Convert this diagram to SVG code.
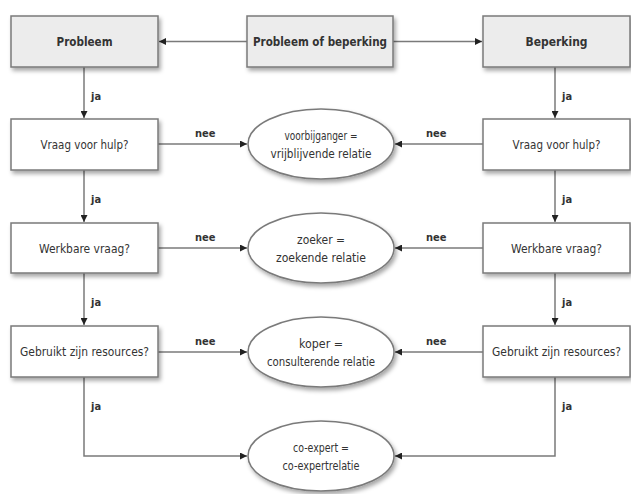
<svg xmlns="http://www.w3.org/2000/svg" width="631" height="494" viewBox="0 0 631 494">
<style>
.box{fill:#ffffff;stroke:#7a7a7a;stroke-width:1.5;filter:url(#sh)}
.top{fill:#ececec}
.ell{fill:#ffffff;stroke:#7a7a7a;stroke-width:1.5;filter:url(#sh)}
.t{font-family:"DejaVu Sans Condensed","Liberation Sans Narrow","Liberation Sans",sans-serif;font-size:12px;fill:#333333;text-anchor:middle}
.b{font-weight:bold}
.lbl{font-family:"DejaVu Sans Condensed","Liberation Sans Narrow","Liberation Sans",sans-serif;font-size:11px;fill:#333333;font-weight:bold}
.c{fill:none;stroke:#7a7a7a;stroke-width:1.5}
</style>
<defs>
<filter id="sh" x="-20%" y="-20%" width="140%" height="150%">
<feDropShadow dx="2" dy="3" stdDeviation="2" flood-color="#000" flood-opacity="0.35"/>
</filter>
<marker id="ah" viewBox="0 0 10 10" refX="10" refY="5" markerWidth="8" markerHeight="7" markerUnits="userSpaceOnUse" orient="auto">
<path d="M0,0 L10,5 L0,10 z" fill="#222"/>
</marker>
</defs>
<rect width="631" height="494" fill="#ffffff"/>

<g id="connectors">
<line class="c" x1="247" y1="41.5" x2="159" y2="41.5" marker-end="url(#ah)"/>
<line class="c" x1="393" y1="41.5" x2="482" y2="41.5" marker-end="url(#ah)"/>
<line class="c" x1="84" y1="67" x2="84" y2="118" marker-end="url(#ah)"/>
<line class="c" x1="555" y1="67" x2="555" y2="118" marker-end="url(#ah)"/>
<line class="c" x1="84" y1="170" x2="84" y2="222" marker-end="url(#ah)"/>
<line class="c" x1="555" y1="170" x2="555" y2="222" marker-end="url(#ah)"/>
<line class="c" x1="84" y1="273" x2="84" y2="325" marker-end="url(#ah)"/>
<line class="c" x1="555" y1="273" x2="555" y2="325" marker-end="url(#ah)"/>
<line class="c" x1="158" y1="144" x2="247" y2="144" marker-end="url(#ah)"/>
<line class="c" x1="483" y1="144" x2="395" y2="144" marker-end="url(#ah)"/>
<line class="c" x1="158" y1="248" x2="247" y2="248" marker-end="url(#ah)"/>
<line class="c" x1="483" y1="248" x2="395" y2="248" marker-end="url(#ah)"/>
<line class="c" x1="158" y1="352" x2="247" y2="352" marker-end="url(#ah)"/>
<line class="c" x1="483" y1="352" x2="395" y2="352" marker-end="url(#ah)"/>
<polyline class="c" points="84,377 84,456 247,456" marker-end="url(#ah)"/>
<polyline class="c" points="555,377 555,456 395,456" marker-end="url(#ah)"/>
<text class="lbl" x="91" y="100">ja</text>
<text class="lbl" x="562" y="100">ja</text>
<text class="lbl" x="91" y="203">ja</text>
<text class="lbl" x="562" y="203">ja</text>
<text class="lbl" x="91" y="306">ja</text>
<text class="lbl" x="562" y="306">ja</text>
<text class="lbl" x="91" y="410">ja</text>
<text class="lbl" x="562" y="410">ja</text>
<text class="lbl" x="195" y="137">nee</text>
<text class="lbl" x="426" y="137">nee</text>
<text class="lbl" x="195" y="241">nee</text>
<text class="lbl" x="426" y="241">nee</text>
<text class="lbl" x="195" y="345">nee</text>
<text class="lbl" x="426" y="345">nee</text>
</g>

<g id="probleem">
<rect class="box top" x="11" y="16" width="147" height="51"/>
<text class="t b" x="84.5" y="46" textLength="56" lengthAdjust="spacingAndGlyphs">Probleem</text>
</g>
<g id="probleem-of-beperking">
<rect class="box top" x="247" y="16" width="146" height="51"/>
<text class="t b" x="320" y="46" textLength="134" lengthAdjust="spacingAndGlyphs">Probleem of beperking</text>
</g>
<g id="beperking">
<rect class="box top" x="483" y="16" width="147" height="51"/>
<text class="t b" x="556.5" y="46" textLength="62" lengthAdjust="spacingAndGlyphs">Beperking</text>
</g>

<g id="vraag-links">
<rect class="box" x="11" y="119" width="147" height="51"/>
<text class="t" x="84.5" y="149" textLength="88" lengthAdjust="spacingAndGlyphs">Vraag voor hulp?</text>
</g>
<g id="vraag-rechts">
<rect class="box" x="483" y="119" width="147" height="51"/>
<text class="t" x="556.5" y="149" textLength="88" lengthAdjust="spacingAndGlyphs">Vraag voor hulp?</text>
</g>
<g id="werkbaar-links">
<rect class="box" x="11" y="223" width="147" height="50"/>
<text class="t" x="84.5" y="252.5" textLength="91" lengthAdjust="spacingAndGlyphs">Werkbare vraag?</text>
</g>
<g id="werkbaar-rechts">
<rect class="box" x="483" y="223" width="147" height="50"/>
<text class="t" x="556.5" y="252.5" textLength="91" lengthAdjust="spacingAndGlyphs">Werkbare vraag?</text>
</g>
<g id="resources-links">
<rect class="box" x="11" y="326" width="147" height="51"/>
<text class="t" x="84.5" y="356" textLength="129" lengthAdjust="spacingAndGlyphs">Gebruikt zijn resources?</text>
</g>
<g id="resources-rechts">
<rect class="box" x="483" y="326" width="147" height="51"/>
<text class="t" x="556.5" y="356" textLength="129" lengthAdjust="spacingAndGlyphs">Gebruikt zijn resources?</text>
</g>

<g id="voorbijganger">
<ellipse class="ell" cx="321" cy="144" rx="73" ry="35"/>
<text class="t" x="321" y="140" textLength="73" lengthAdjust="spacingAndGlyphs">voorbijganger =</text>
<text class="t" x="321" y="158" textLength="101" lengthAdjust="spacingAndGlyphs">vrijblijvende relatie</text>
</g>
<g id="zoeker">
<ellipse class="ell" cx="321" cy="248" rx="73" ry="35"/>
<text class="t" x="321" y="244" textLength="48" lengthAdjust="spacingAndGlyphs">zoeker =</text>
<text class="t" x="321" y="262" textLength="90" lengthAdjust="spacingAndGlyphs">zoekende relatie</text>
</g>
<g id="koper">
<ellipse class="ell" cx="321" cy="352" rx="73" ry="35"/>
<text class="t" x="321" y="348" textLength="44" lengthAdjust="spacingAndGlyphs">koper =</text>
<text class="t" x="321" y="366" textLength="108" lengthAdjust="spacingAndGlyphs">consulterende relatie</text>
</g>
<g id="co-expert">
<ellipse class="ell" cx="321" cy="456" rx="73" ry="35"/>
<text class="t" x="321" y="452" textLength="56" lengthAdjust="spacingAndGlyphs">co-expert =</text>
<text class="t" x="321" y="470" textLength="77" lengthAdjust="spacingAndGlyphs">co-expertrelatie</text>
</g>
</svg>
